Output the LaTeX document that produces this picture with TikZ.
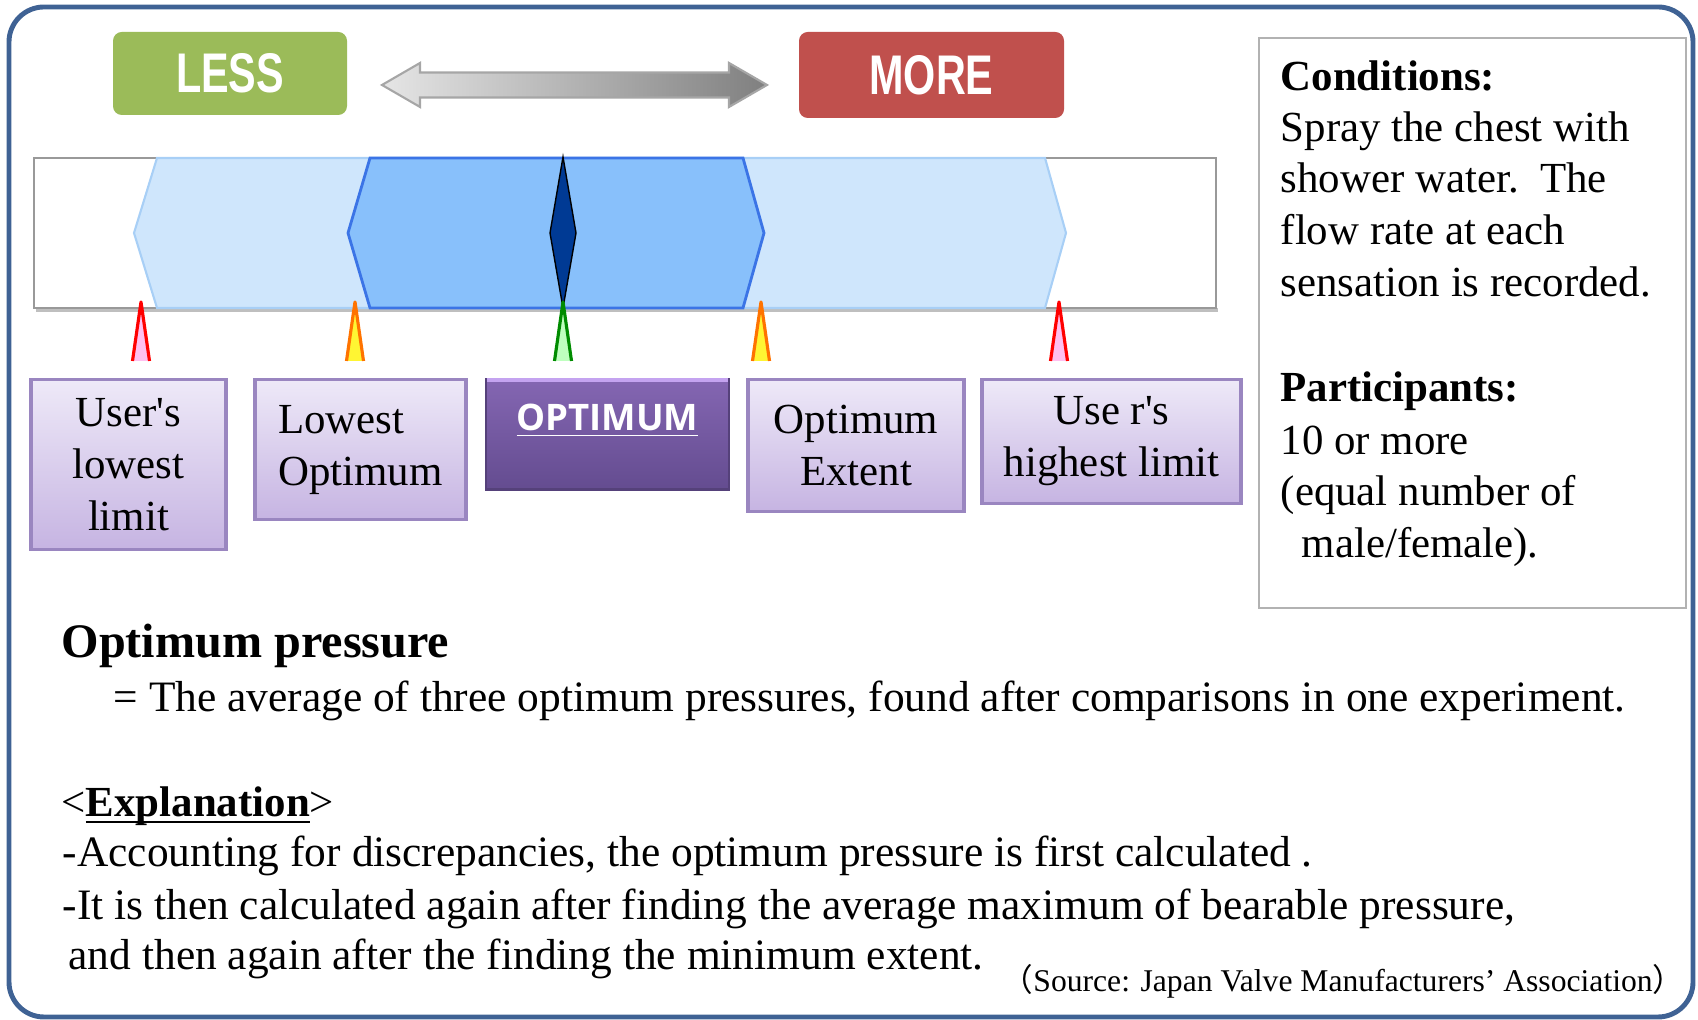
\documentclass[tikz,border=0pt]{standalone}
\usepackage{fontspec}
\setmainfont{Liberation Serif}
\newfontfamily\tagfont{Liberation Sans}[FakeStretch=0.74]
\newfontfamily\optfont{Open Sans}
\newfontfamily\cjk{Noto Sans CJK JP}

\definecolor{frameblue}{HTML}{3F6294}
\definecolor{lessgreen}{HTML}{9BBB59}
\definecolor{morered}{HTML}{C0504D}
\definecolor{paleblue}{HTML}{CFE6FC}
\definecolor{paleblueline}{HTML}{A8CFF6}
\definecolor{midblue}{HTML}{88C0FB}
\definecolor{midblueline}{HTML}{3B74E6}
\definecolor{navy}{HTML}{003A94}
\definecolor{boxtop}{HTML}{EEE9F8}
\definecolor{boxbottom}{HTML}{C6B4E2}
\definecolor{boxline}{HTML}{9A86C0}
\definecolor{opttop}{HTML}{8466B2}
\definecolor{optbottom}{HTML}{644C90}
\definecolor{optlight}{HTML}{C4A3F0}
\definecolor{spikepink}{HTML}{FFC0F0}

\tikzset{
  tagbox/.style={rounded corners=2.5pt, text=white, inner sep=0pt,
    font=\tagfont\bfseries\fontsize{15.9}{16}\selectfont},
  levelbox/.style={draw=boxline, line width=0.9pt, top color=boxtop,
    bottom color=boxbottom, align=center, inner sep=0pt, anchor=north,
    font=\fontsize{12.2}{14.8}\selectfont},
  optbox/.style={draw=optbottom!85!black, line width=0.8pt, top color=opttop,
    bottom color=optbottom, text=white, anchor=north, inner xsep=0pt,
    font=\optfont\bfseries\fontsize{10.4}{12}\selectfont},
  bodytext/.style={anchor=base west, inner sep=0pt,
    font=\fontsize{12.2}{14.8}\selectfont},
}

\begin{document}
\begin{tikzpicture}
\useasboundingbox (0,0) rectangle (16.98,10.20);

% 外枠
\draw[frameblue, line width=1.4pt, rounded corners=0.35cm] (0.09,0.03) rectangle (16.93,10.13);

% LESS / MORE
\node[tagbox, fill=lessgreen, minimum width=2.34cm, minimum height=0.83cm] (less) at (2.30,9.465) {LESS};
\node[tagbox, fill=morered, minimum width=2.65cm, minimum height=0.86cm] (more) at (9.315,9.45) {MORE};

% 両矢印(グラデーション)
\draw[draw=black!35, line width=0.6pt, left color=black!10, right color=black!50]
  (3.82,9.35) -- (4.20,9.57) -- (4.20,9.475) -- (7.29,9.475) -- (7.29,9.57)
  -- (7.67,9.35) -- (7.29,9.13) -- (7.29,9.225) -- (4.20,9.225) -- (4.20,9.13) -- cycle;

% 目盛りバー
\fill[black!25] (0.36,7.08) rectangle (12.18,7.12);
\draw[black!40, line width=0.8pt] (0.34,7.12) rectangle (12.16,8.62);
% 許容範囲(薄い青)
\filldraw[fill=paleblue, draw=paleblueline, line width=0.6pt]
  (1.57,8.62) -- (10.45,8.62) -- (10.66,7.87) -- (10.45,7.12) -- (1.57,7.12) -- (1.34,7.87) -- cycle;
% 適温範囲(濃い青)
\filldraw[fill=midblue, draw=midblueline, line width=0.8pt]
  (3.70,8.62) -- (7.43,8.62) -- (7.64,7.87) -- (7.43,7.12) -- (3.70,7.12) -- (3.48,7.87) -- cycle;
% 最適値
\filldraw[fill=navy, draw=black, line width=0.4pt]
  (5.63,8.63) -- (5.76,7.87) -- (5.63,7.12) -- (5.50,7.87) -- cycle;

% 目印の三角
\foreach \x/\edge/\inner in {
    1.41/red/spikepink,
    3.55/orange!90!red/yellow!80,
    5.63/green!55!black/green!25,
    7.61/orange!90!red/yellow!80,
    10.59/red/spikepink} {
    \fill[\inner] (\x-0.085,6.59) -- (\x,7.18) -- (\x+0.085,6.59) -- cycle;
    \draw[\edge, line width=0.9pt, line join=round] (\x-0.085,6.59) -- (\x,7.18) -- (\x+0.085,6.59);
}

% ラベルの箱
\node[levelbox, minimum width=1.95cm, minimum height=1.70cm] (ulow) at (1.285,6.42) {User\textquotesingle s\\lowest\\limit};
\node[levelbox, align=left, minimum width=2.11cm, minimum height=1.40cm] (lopt) at (3.605,6.42) {Lowest\\Optimum};
\node[optbox, minimum width=2.43cm, inner ysep=0.2cm, text height=0.31cm, text depth=0.39cm] (opt) at (6.075,6.42) {\underline{OPTIMUM}};
\draw[optlight, line width=1.2pt] ([xshift=0.6pt,yshift=-0.6pt]opt.north west) -- ([xshift=-0.6pt,yshift=-0.6pt]opt.north east);
\node[levelbox, minimum width=2.16cm, minimum height=1.32cm] (oext) at (8.56,6.42) {Optimum\\Extent};
\node[levelbox, minimum width=2.59cm, minimum height=1.24cm] (uhigh) at (11.115,6.42) {Use r\textquotesingle s\\highest limit};

% 条件の枠
\draw[black!30, line width=0.8pt] (12.59,4.12) rectangle (16.86,9.82);
\foreach \y/\text [count=\i] in {
    9.29/{\textbf{Conditions:}},
    8.78/{Spray the chest with},
    8.27/{shower water.\ \ The},
    7.75/{flow rate at each},
    7.23/{sensation is recorded.},
    6.18/{\textbf{Participants:}},
    5.65/{10 or more},
    5.14/{(equal number of},
    4.62/{\hspace*{0.21cm}male/female).}} {
    \node[bodytext] (cond\i) at (12.80,\y) {\text};
}

% 説明文
\node[bodytext, font=\bfseries\fontsize{13.7}{16}\selectfont] (title) at (0.61,3.62) {Optimum pressure};
\node[bodytext, font=\fontsize{12.35}{14.8}\selectfont] (avg) at (1.13,3.08) {= The average of three optimum pressures, found after comparisons in one experiment.};
\node[bodytext] (expl) at (0.61,2.03) {<\underline{\smash{\textbf{Explanation}}}>};
\foreach \x/\y/\text [count=\i] in {
    0.62/1.53/{-Accounting for discrepancies, the optimum pressure is first calculated .},
    0.62/1.00/{-It is then calculated again after finding the average maximum of bearable pressure,},
    0.68/0.50/{and then again after the finding the minimum extent.}} {
    \node[bodytext, font=\fontsize{12.35}{14.8}\selectfont] (line\i) at (\x,\y) {\text};
}

% 出典
\node[anchor=base east, inner sep=0pt, font=\fontsize{9}{10}\selectfont] (src) at (16.85,0.28)
  {{\cjk （}Source: Japan Valve Manufacturers’ Association{\cjk ）}};
\end{tikzpicture}
\end{document}
